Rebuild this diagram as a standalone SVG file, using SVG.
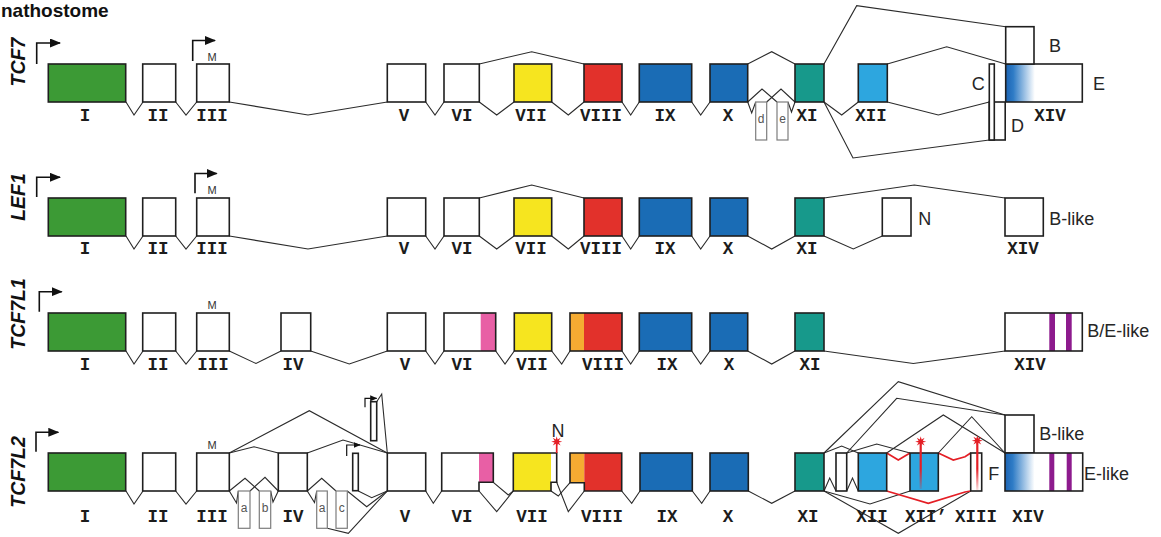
<svg xmlns="http://www.w3.org/2000/svg" width="1161" height="537" viewBox="0 0 1161 537">
<defs>
<style>
.ln{fill:none;stroke:#2b2b2b;stroke-width:1.1}
.rl{fill:none;stroke:#e41e25;stroke-width:1.7}
.ex{stroke:#1f1f1f;stroke-width:1.6}
.ol{fill:none;stroke:#1f1f1f;stroke-width:1.6}
.w{fill:#fff}.g{fill:#3c9a35}.y{fill:#f6e51f}.r{fill:#e2312b}.b{fill:#1a6cb5}
.t{fill:#17998b}.lb{fill:#2da6df}.pk{fill:#e85fa5}.or{fill:#f5ab32}.pu{fill:#8d1b8d}
.sm{fill:#fff;stroke:#7d7d7d;stroke-width:1.2}
.num{font-family:"Liberation Mono","Courier New",monospace;font-weight:bold;font-size:17.5px;text-anchor:middle;fill:#1c1c1c}
.lab{font-family:"Liberation Sans",Arial,sans-serif;font-size:18px;fill:#262626}
.mk{font-family:"Liberation Sans",Arial,sans-serif;font-size:11px;fill:#333;text-anchor:middle}
.sl{font-family:"Liberation Sans",Arial,sans-serif;font-size:12px;fill:#555;text-anchor:middle}
.gene{font-family:"Liberation Sans",Arial,sans-serif;font-weight:bold;font-style:italic;font-size:19.5px;text-anchor:middle;fill:#111}
.pr{fill:none;stroke:#111;stroke-width:1.6}
.pr2{fill:none;stroke:#111;stroke-width:1.2}
</style>
<marker id="ah" viewBox="0 0 11 9" refX="10" refY="4.5" markerWidth="11" markerHeight="9" markerUnits="userSpaceOnUse" orient="auto">
<path d="M0,0 L11,4.5 L0,9z" fill="#111"/>
</marker>
<marker id="ahs" viewBox="0 0 7 6" refX="6.5" refY="3" markerWidth="7" markerHeight="6" markerUnits="userSpaceOnUse" orient="auto">
<path d="M0,0 L7,3 L0,6z" fill="#111"/>
</marker>
<linearGradient id="fade" x1="0" y1="0" x2="1" y2="0">
<stop offset="0" stop-color="#1b63b3"/>
<stop offset="0.1" stop-color="#2f7cc6"/>
<stop offset="0.38" stop-color="#fff"/>
</linearGradient>
<linearGradient id="redfade" x1="0" y1="0" x2="0" y2="1">
<stop offset="0" stop-color="#e41e25"/>
<stop offset="0.55" stop-color="#e41e25"/>
<stop offset="1" stop-color="#e41e25" stop-opacity="0.15"/>
</linearGradient>
<polygon id="star" fill="#e41e25" points="5.5,0 2.1,0.9 3.9,3.9 0.9,2.1 0,5.5 -0.9,2.1 -3.9,3.9 -2.1,0.9 -5.5,0 -2.1,-0.9 -3.9,-3.9 -0.9,-2.1 0,-5.5 0.9,-2.1 3.9,-3.9 2.1,-0.9"/>
</defs>
<rect width="1161" height="537" fill="#fff"/>

<text x="1" y="17" font-family="Liberation Sans,Arial,sans-serif" font-weight="bold" font-size="19" fill="#111">nathostome</text>

<!-- gene names -->
<g id="gene-names">
<text class="gene" transform="translate(25,62) rotate(-90)">TCF7</text>
<text class="gene" transform="translate(25,197) rotate(-90)">LEF1</text>
<text class="gene" transform="translate(25,314) rotate(-90)">TCF7L1</text>
<text class="gene" transform="translate(25,472) rotate(-90)">TCF7L2</text>
</g>

<!-- intron / splice connectors -->
<g id="connectors">
<!-- TCF7 -->
<path class="ln" d="M126,102 L134,115 L143,102"/>
<path class="ln" d="M175.7,102 L186,115 L196.7,102"/>
<path class="ln" d="M229.3,102 L308,115 L387.3,102"/>
<path class="ln" d="M425.7,102 L435,115 L444,102"/>
<path class="ln" d="M479.3,102 L496.7,115 L514,102"/>
<path class="ln" d="M479.3,64 L531.7,51.7 L584,64"/>
<path class="ln" d="M551.7,102 L568.3,115 L584,102"/>
<path class="ln" d="M622,102 L630.7,115 L639.3,102"/>
<path class="ln" d="M691.7,102 L700.7,115 L710,102"/>
<path class="ln" d="M747.7,64 L771.7,51.7 L795,64"/>
<path class="ln" d="M747.7,102 L751.7,113 L755.7,102"/>
<path class="ln" d="M747.7,102 L762,89 L777,102"/>
<path class="ln" d="M766.7,102 L781,89 L795,102"/>
<path class="ln" d="M788,102 L791.5,112 L795,102"/>
<path class="ln" d="M824,64 L856.7,5.7 L1005.7,26.7"/>
<path class="ln" d="M824,102 L853,158 L989.3,140"/>
<path class="ln" d="M824,102 L841.7,115 L858.3,102"/>
<path class="ln" d="M887.3,64 L946.7,46.7 L1005.7,64"/>
<path class="ln" d="M887.3,102 L938.3,115 L989.3,102"/>
<!-- LEF1 -->
<path class="ln" d="M126,236 L134,249 L143,236"/>
<path class="ln" d="M175.7,236 L186,249 L196.7,236"/>
<path class="ln" d="M229.3,236 L308,249 L387.3,236"/>
<path class="ln" d="M425.7,236 L435,249 L444,236"/>
<path class="ln" d="M479.3,236 L496.7,249 L514,236"/>
<path class="ln" d="M479.3,198 L531.7,185 L584,198"/>
<path class="ln" d="M551.7,236 L568.3,249 L584,236"/>
<path class="ln" d="M622,236 L630.7,249 L639.3,236"/>
<path class="ln" d="M691.7,236 L700.7,249 L710,236"/>
<path class="ln" d="M747.7,236 L771.7,249 L795,236"/>
<path class="ln" d="M824,198 L914.3,185 L1005,198"/>
<path class="ln" d="M824,236 L853.3,249 L882.3,236"/>
<!-- TCF7L1 -->
<path class="ln" d="M126,351 L134,364 L143,351"/>
<path class="ln" d="M175.7,351 L186,364 L196.7,351"/>
<path class="ln" d="M229.3,351 L256,363.5 L281,351"/>
<path class="ln" d="M310.7,351 L349.3,364 L387.3,351"/>
<path class="ln" d="M425.7,351 L435,364 L444,351"/>
<path class="ln" d="M495.7,351 L505,364 L514.3,351"/>
<path class="ln" d="M551.7,351 L561.7,364 L570,351"/>
<path class="ln" d="M622,351 L630.7,364 L639.3,351"/>
<path class="ln" d="M691.7,351 L700.7,364 L710,351"/>
<path class="ln" d="M747.7,351 L771.7,364 L795,351"/>
<path class="ln" d="M824,351 L913.3,363.5 L1005,351"/>
<!-- TCF7L2 -->
<path class="ln" d="M126,491 L134,504 L143,491"/>
<path class="ln" d="M175.7,491 L186,504 L196.7,491"/>
<path class="ln" d="M229.3,453 L254,446.7 L278.3,453"/>
<path class="ln" d="M229.3,453 L309.3,410.7 L387.3,453"/>
<path class="ln" d="M307.3,453 L343,440 L387.3,453"/>
<path class="ln" d="M376.7,401.7 L381.7,394 L387.3,453"/>
<path class="ln" d="M229.3,491 L236.5,503 L238.3,491"/>
<path class="ln" d="M229.3,491 L245,478.3 L259.3,491"/>
<path class="ln" d="M250,491 L265,477.3 L278.3,491"/>
<path class="ln" d="M270.7,491 L273,502 L278.3,491"/>
<path class="ln" d="M307.3,491 L314.5,502.5 L316.7,491"/>
<path class="ln" d="M307.3,491 L321.7,478.3 L336,491"/>
<path class="ln" d="M327.3,528.3 L348.3,533.3 L387.3,491"/>
<path class="ln" d="M347.3,491 L366.7,506.7 L387.3,491"/>
<path class="ln" d="M358.3,491 L371.7,497.7 L387.3,491"/>
<path class="ln" d="M425.7,491 L433.3,503.3 L441.7,491"/>
<path class="ln" d="M479,491 L496.7,511.7 L513.3,491"/>
<path class="ln" d="M493.3,482.3 L508.3,495 L513.3,491"/>
<path class="ln" d="M551,491 L558.3,496 L570,482.7"/>
<path class="ln" d="M556.7,482.3 L568.3,511.7 L584.3,491"/>
<path class="ln" d="M621.7,491 L631.7,503.3 L640,491"/>
<path class="ln" d="M692.3,491 L701.7,503.3 L710,491"/>
<path class="ln" d="M748.3,491 L771.7,503.3 L795,491"/>
<path class="ln" d="M824,453 L898.3,381.7 L1005,415"/>
<path class="ln" d="M846.7,453 L896.7,398.3 L1005,415"/>
<path class="ln" d="M886.7,453 L943.3,415 L1005,453"/>
<path class="ln" d="M938.3,453 L971.7,416.7 L1005,453"/>
<path class="ln" d="M824,453 L841.7,446 L858.3,453"/>
<path class="ln" d="M846.7,453 L876.7,444 L910,453"/>
<path class="ln" d="M824,491 L829.7,478 L836,491"/>
<path class="ln" d="M846.7,491 L852.5,478 L858.3,491"/>
<path class="ln" d="M824,491 L898.3,533.3 L970.7,491"/>
<path class="ln" d="M824,491 L870,504 L910,491"/>
<path class="rl" d="M886.7,453 L898.3,460 L910,453"/>
<path class="rl" d="M938.3,453 L953.3,460 L965,456.7 L970.7,453"/>
<path class="rl" d="M886.7,491 L928.3,503.3 L965,492 L970.7,491"/>
</g>

<!-- promoters -->
<g id="promoters">
<path class="pr" d="M36.7,64 V43 H60" marker-end="url(#ah)"/>
<path class="pr" d="M192.7,61 V40.5 H215" marker-end="url(#ah)"/>
<path class="pr" d="M36.7,197 V177.3 H60" marker-end="url(#ah)"/>
<path class="pr" d="M195,193.3 V173.5 H216.7" marker-end="url(#ah)"/>
<path class="pr" d="M39.3,311.7 V291.7 H61.7" marker-end="url(#ah)"/>
<path class="pr" d="M36,451.7 V432.3 H58.3" marker-end="url(#ah)"/>
<path class="pr2" d="M346.7,456 V445 H360" marker-end="url(#ahs)"/>
<path class="pr2" d="M365,407.3 V398.3 H376.7" marker-end="url(#ahs)"/>
</g>

<!-- TCF7 exons -->
<g id="tcf7-I"><rect class="ex g" x="48.3" y="64" width="77.4" height="38"/><text class="num" x="85" y="121">I</text></g>
<g id="tcf7-II"><rect class="ex w" x="142.7" y="64" width="33" height="38"/><text class="num" x="158" y="121">II</text></g>
<g id="tcf7-III"><rect class="ex w" x="196.7" y="64" width="32.6" height="38"/><text class="num" x="212" y="121">III</text><text class="mk" x="212" y="60.5">M</text></g>
<g id="tcf7-V"><rect class="ex w" x="387.3" y="64" width="38.4" height="38"/><text class="num" x="404" y="121">V</text></g>
<g id="tcf7-VI"><rect class="ex w" x="444" y="64" width="35.3" height="38"/><text class="num" x="462" y="121">VI</text></g>
<g id="tcf7-VII"><rect class="ex y" x="514" y="64" width="37.7" height="38"/><text class="num" x="531" y="121">VII</text></g>
<g id="tcf7-VIII"><rect class="ex r" x="584" y="64" width="38" height="38"/><text class="num" x="601" y="121">VIII</text></g>
<g id="tcf7-IX"><rect class="ex b" x="639.3" y="64" width="52.4" height="38"/><text class="num" x="665" y="121">IX</text></g>
<g id="tcf7-X"><rect class="ex b" x="710" y="64" width="37.7" height="38"/><text class="num" x="728" y="121">X</text></g>
<g id="tcf7-d"><rect class="sm" x="755.7" y="102" width="11" height="38"/><text class="sl" x="761.2" y="122.5">d</text></g>
<g id="tcf7-e"><rect class="sm" x="777" y="102" width="11" height="38"/><text class="sl" x="782.5" y="122.5">e</text></g>
<g id="tcf7-XI"><rect class="ex t" x="795" y="64" width="29" height="38"/><text class="num" x="807" y="121">XI</text></g>
<g id="tcf7-XII"><rect class="ex lb" x="858.3" y="64" width="29" height="38"/><text class="num" x="871" y="121">XII</text></g>
<g id="tcf7-XIV"><rect class="ex" fill="url(#fade)" x="1005.7" y="64" width="76.6" height="38"/><text class="num" x="1050" y="121">XIV</text><text class="lab" x="1093" y="89.5">E</text></g>
<g id="tcf7-B"><rect class="ex w" x="1005.7" y="26.7" width="28.3" height="37.3"/><text class="lab" x="1049" y="51.5">B</text></g>
<g id="tcf7-D"><rect class="ex w" x="989.3" y="102" width="15.9" height="38"/><text class="lab" x="1017.5" y="131.5" text-anchor="middle">D</text></g>
<g id="tcf7-C"><rect class="ex w" x="989.3" y="64" width="5" height="76"/><text class="lab" x="978.3" y="89.5" text-anchor="middle">C</text></g>

<!-- LEF1 exons -->
<g id="lef1-I"><rect class="ex g" x="48.3" y="198" width="77.4" height="38"/><text class="num" x="85" y="254">I</text></g>
<g id="lef1-II"><rect class="ex w" x="142.7" y="198" width="33" height="38"/><text class="num" x="158" y="254">II</text></g>
<g id="lef1-III"><rect class="ex w" x="196.7" y="198" width="32.6" height="38"/><text class="num" x="212" y="254">III</text><text class="mk" x="212" y="193.5">M</text></g>
<g id="lef1-V"><rect class="ex w" x="387.3" y="198" width="38.4" height="38"/><text class="num" x="404" y="254">V</text></g>
<g id="lef1-VI"><rect class="ex w" x="444" y="198" width="35.3" height="38"/><text class="num" x="462" y="254">VI</text></g>
<g id="lef1-VII"><rect class="ex y" x="514" y="198" width="37.7" height="38"/><text class="num" x="531" y="254">VII</text></g>
<g id="lef1-VIII"><rect class="ex r" x="584" y="198" width="38" height="38"/><text class="num" x="601" y="254">VIII</text></g>
<g id="lef1-IX"><rect class="ex b" x="639.3" y="198" width="52.4" height="38"/><text class="num" x="665" y="254">IX</text></g>
<g id="lef1-X"><rect class="ex b" x="710" y="198" width="37.7" height="38"/><text class="num" x="728" y="254">X</text></g>
<g id="lef1-XI"><rect class="ex t" x="795" y="198" width="29" height="38"/><text class="num" x="807" y="254">XI</text></g>
<g id="lef1-N"><rect class="ex w" x="882.3" y="198" width="28.7" height="38"/><text class="lab" x="918.3" y="224.5">N</text></g>
<g id="lef1-XIV"><rect class="ex w" x="1005" y="198" width="38.3" height="38"/><text class="num" x="1023" y="254">XIV</text><text class="lab" x="1049.3" y="224.5">B-like</text></g>

<!-- TCF7L1 exons -->
<g id="tcf7l1-I"><rect class="ex g" x="48.3" y="313" width="77.4" height="38"/><text class="num" x="85" y="370">I</text></g>
<g id="tcf7l1-II"><rect class="ex w" x="142.7" y="313" width="33" height="38"/><text class="num" x="158" y="370">II</text></g>
<g id="tcf7l1-III"><rect class="ex w" x="196.7" y="313" width="32.6" height="38"/><text class="num" x="213" y="370">III</text><text class="mk" x="212" y="309">M</text></g>
<g id="tcf7l1-IV"><rect class="ex w" x="281" y="313" width="29.7" height="38"/><text class="num" x="293" y="370">IV</text></g>
<g id="tcf7l1-V"><rect class="ex w" x="387.3" y="313" width="38.4" height="38"/><text class="num" x="405" y="370">V</text></g>
<g id="tcf7l1-VI"><rect class="w" x="444" y="313" width="36.7" height="38"/><rect class="pk" x="480.7" y="313" width="15" height="38"/><rect class="ol" x="444" y="313" width="51.7" height="38"/><text class="num" x="462" y="370">VI</text></g>
<g id="tcf7l1-VII"><rect class="ex y" x="514.3" y="313" width="37.4" height="38"/><text class="num" x="532" y="370">VII</text></g>
<g id="tcf7l1-VIII"><rect class="or" x="570" y="313" width="14" height="38"/><rect class="r" x="584" y="313" width="38" height="38"/><rect class="ol" x="570" y="313" width="52" height="38"/><text class="num" x="603" y="370">VIII</text></g>
<g id="tcf7l1-IX"><rect class="ex b" x="639.3" y="313" width="52.4" height="38"/><text class="num" x="667" y="370">IX</text></g>
<g id="tcf7l1-X"><rect class="ex b" x="710" y="313" width="37.7" height="38"/><text class="num" x="729" y="370">X</text></g>
<g id="tcf7l1-XI"><rect class="ex t" x="795" y="313" width="29" height="38"/><text class="num" x="810" y="370">XI</text></g>
<g id="tcf7l1-XIV"><rect class="w" x="1005" y="313" width="77.3" height="38"/><rect class="pu" x="1049.3" y="313" width="5.7" height="38"/><rect class="pu" x="1066" y="313" width="5.7" height="38"/><rect class="ol" x="1005" y="313" width="77.3" height="38"/><text class="num" x="1030" y="370">XIV</text><text class="lab" x="1087.3" y="336.5">B/E-like</text></g>

<!-- TCF7L2 exons -->
<g id="tcf7l2-I"><rect class="ex g" x="48.3" y="453" width="77.4" height="38"/><text class="num" x="85" y="522">I</text></g>
<g id="tcf7l2-II"><rect class="ex w" x="142.7" y="453" width="33" height="38"/><text class="num" x="158" y="522">II</text></g>
<g id="tcf7l2-III"><rect class="ex w" x="196.7" y="453" width="32.6" height="38"/><text class="num" x="212" y="522">III</text><text class="mk" x="212" y="449">M</text></g>
<g id="tcf7l2-a1"><rect class="sm" x="238.3" y="491" width="11.7" height="37.3"/><text class="sl" x="244.2" y="511.5">a</text></g>
<g id="tcf7l2-b"><rect class="sm" x="259.3" y="491" width="11.4" height="37.3"/><text class="sl" x="265" y="511.5">b</text></g>
<g id="tcf7l2-IV"><rect class="ex w" x="278.3" y="453" width="29" height="38"/><text class="num" x="293" y="522">IV</text></g>
<g id="tcf7l2-a2"><rect class="sm" x="316.7" y="491" width="10.6" height="37.3"/><text class="sl" x="322" y="511.5">a</text></g>
<g id="tcf7l2-c"><rect class="sm" x="336" y="491" width="11.3" height="37.3"/><text class="sl" x="341.7" y="511.5">c</text></g>
<g id="tcf7l2-alt1"><rect class="ex w" x="352.7" y="453.3" width="5.6" height="37.4"/></g>
<g id="tcf7l2-alt2"><rect class="ex w" x="370.7" y="401.7" width="6" height="39"/></g>
<g id="tcf7l2-V"><rect class="ex w" x="387.3" y="453" width="38.4" height="38"/><text class="num" x="405" y="522">V</text></g>
<g id="tcf7l2-VI"><rect class="w" x="441.7" y="453" width="37.3" height="38"/><rect class="pk" x="479" y="453" width="14.3" height="29.3"/><path class="ol" d="M441.7,453 H493.3 V482.3 H479 V491 H441.7 Z"/><text class="num" x="462" y="522">VI</text></g>
<g id="tcf7l2-VII"><rect class="y" x="513.3" y="453" width="37.7" height="38"/><path class="ol" d="M513.3,453 H556.7 V482.3 H551 V491 H513.3 Z"/><text class="num" x="532" y="522">VII</text>
<path class="rl" d="M556.7,453 V443"/><use href="#star" x="556.7" y="441.7"/><text class="lab" x="558" y="436.5" text-anchor="middle">N</text></g>
<g id="tcf7l2-VIII"><rect class="or" x="570" y="453" width="14.3" height="29.7"/><rect class="r" x="584.3" y="453" width="37.4" height="38"/><path class="ol" d="M570,453 H621.7 V491 H584.3 V482.7 H570 Z"/><text class="num" x="602" y="522">VIII</text></g>
<g id="tcf7l2-IX"><rect class="ex b" x="640" y="453" width="52.3" height="38"/><text class="num" x="667" y="522">IX</text></g>
<g id="tcf7l2-X"><rect class="ex b" x="710" y="453" width="38.3" height="38"/><text class="num" x="728" y="522">X</text></g>
<g id="tcf7l2-XI"><rect class="ex t" x="795" y="453" width="29" height="38"/><text class="num" x="808" y="522">XI</text></g>
<g id="tcf7l2-XIa"><rect class="ex w" x="836" y="453" width="10.7" height="38"/></g>
<g id="tcf7l2-XII"><rect class="ex lb" x="858.3" y="453" width="28.4" height="38"/><text class="num" x="872" y="522">XII</text></g>
<g id="tcf7l2-XIIb"><rect class="ex lb" x="910" y="453" width="28.3" height="38"/><rect x="919.6" y="444" width="2.2" height="45" fill="url(#redfade)"/><use href="#star" x="920.7" y="441.7"/><text class="num" x="926" y="522">XII’</text></g>
<g id="tcf7l2-XIII"><rect class="ex w" x="970.7" y="453" width="11" height="38"/><rect x="976.2" y="443" width="2.2" height="47" fill="url(#redfade)"/><use href="#star" x="977.3" y="440.7"/><text class="num" x="976" y="522">XIII</text><text class="lab" x="988.3" y="479.5">F</text></g>
<g id="tcf7l2-B"><rect class="ex w" x="1005" y="415" width="29" height="38"/><text class="lab" x="1039.3" y="440">B-like</text></g>
<g id="tcf7l2-XIV"><rect fill="url(#fade)" x="1005" y="453" width="77.7" height="38"/><rect class="pu" x="1049.3" y="453" width="5" height="38"/><rect class="pu" x="1066.7" y="453" width="5" height="38"/><rect class="ol" x="1005" y="453" width="77.7" height="38"/><text class="num" x="1028" y="522">XIV</text><text class="lab" x="1084" y="479.5">E-like</text></g>
</svg>
